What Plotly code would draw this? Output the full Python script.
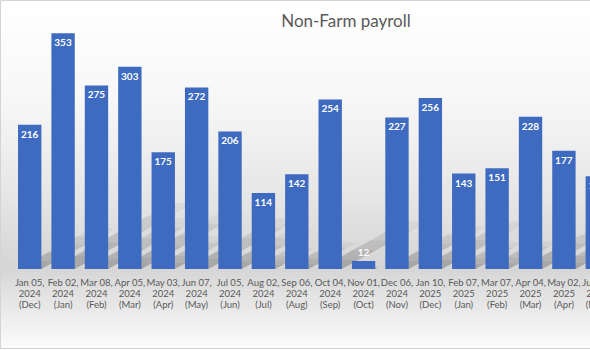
import numpy as np
import plotly.graph_objects as go

# Monthly non-farm payroll change (thousands), by release date and reference month
release_dates = ["Jan 05,", "Feb 02,", "Mar 08,", "Apr 05,", "May 03,", "Jun 07,",
                 "Jul 05,", "Aug 02,", "Sep 06,", "Oct 04,", "Nov 01,", "Dec 06,",
                 "Jan 10,", "Feb 07,", "Mar 07,", "Apr 04,", "May 02,", "Jun 06,"]
release_years = ["2024"] * 12 + ["2025"] * 6
ref_months = ["(Dec)", "(Jan)", "(Feb)", "(Mar)", "(Apr)", "(May)", "(Jun)", "(Jul)",
              "(Aug)", "(Sep)", "(Oct)", "(Nov)", "(Dec)", "(Jan)", "(Feb)", "(Mar)",
              "(Apr)", "(May)"]
payrolls = [216, 353, 275, 303, 175, 272, 206, 114, 142, 254, 12, 227, 256, 143,
            151, 228, 177, 139]

idx = list(range(len(payrolls)))

W, H = 625, 350
ML, MR, MT, MB = 13, 11, 20, 81
PW, PH = W - ML - MR, H - MT - MB
Y_MAX = 373
FONT = "Lato"
TXT = "#595959"
BAR = "#3e6bbf"

fig = go.Figure()
fig.add_trace(go.Bar(
    x=idx, y=payrolls,
    text=[str(v) for v in payrolls],
    textposition="auto", insidetextanchor="end", textangle=0,
    constraintext="none", cliponaxis=False,
    textfont=dict(family=FONT, size=10, color="white", weight="bold"),
    outsidetextfont=dict(family=FONT, size=10, color="white", weight="bold"),
    marker=dict(color=BAR, line=dict(width=0)),
    hoverinfo="skip", showlegend=False,
))

# invisible companions so the second and third label rows get their own axes
for ax in ("x2", "x3"):
    fig.add_trace(go.Scatter(
        x=idx, y=payrolls, xaxis=ax, yaxis="y", mode="markers",
        marker=dict(opacity=0, size=1), hoverinfo="skip", showlegend=False,
    ))

shapes = []

# soft vertical gradient behind the whole chart
def px_to_paper_y(py):
    return (H - MB - py) / PH

stops_px = [0, 100, 200, 268, 300, 350]
stops_gray = [255, 247, 229, 213, 229, 252]
band = 2
for py in range(0, H, band):
    g = int(round(np.interp(py + band / 2, stops_px, stops_gray)))
    shapes.append(dict(
        type="rect", xref="paper", yref="paper", layer="below",
        x0=-ML / PW, x1=(W - ML) / PW,
        y0=px_to_paper_y(py + band), y1=px_to_paper_y(py),
        fillcolor=f"rgb({g},{g},{g})", line=dict(width=0),
    ))

# thin frame around the chart area
shapes.append(dict(
    type="rect", xref="paper", yref="paper", layer="below",
    x0=(0.5 - ML) / PW, x1=(W - 0.5 - ML) / PW,
    y0=px_to_paper_y(348.5), y1=px_to_paper_y(0.5),
    fillcolor="rgba(0,0,0,0)", line=dict(color="#d4d4d4", width=1),
))

# perspective shadows falling up and to the right of each bar
half = 0.35
px_per_unit = PH / Y_MAX
px_per_cat = PW / len(payrolls)
slope = 0.55  # vertical px per horizontal px
k = 0.28
segs = 5
for i, v in enumerate(payrolls):
    hs = k * v
    dx_total = hs * px_per_unit / slope / px_per_cat
    for s in range(segs):
        f0, f1 = s / segs, (s + 1) / segs
        y0, y1 = hs * f0, hs * f1
        d0, d1 = dx_total * f0, dx_total * f1
        path = (f"M {i - half + d0},{y0} L {i + half + d0},{y0} "
                f"L {i + half + d1},{y1} L {i - half + d1},{y1} Z")
        op = 0.30 * (1 - s / segs)
        shapes.append(dict(
            type="path", xref="x", yref="y", layer="below", path=path,
            fillcolor=f"rgba(60,60,60,{op:.3f})", line=dict(width=0),
        ))

tick_common = dict(
    range=[-0.5, len(payrolls) - 0.5], tickvals=idx, showgrid=False,
    zeroline=False, showline=False, ticks="", fixedrange=True, tickangle=0,
    tickfont=dict(family=FONT, size=9.5, color=TXT),
)

fig.update_layout(
    width=W, height=H,
    margin=dict(l=ML, r=MR, t=MT, b=MB, pad=0),
    paper_bgcolor="white", plot_bgcolor="rgba(0,0,0,0)",
    bargap=0.30,
    title=dict(text="Non-Farm payroll", x=346 / W, xref="container", xanchor="center",
               y=1 - 21 / H, yref="container", yanchor="middle",
               font=dict(family=FONT, size=17, color=TXT)),
    xaxis=dict(ticktext=release_dates, ticklabelstandoff=6, **tick_common),
    xaxis2=dict(ticktext=release_years, overlaying="x", anchor="y", side="bottom",
                ticklabelstandoff=17, **tick_common),
    xaxis3=dict(ticktext=ref_months, overlaying="x", anchor="y", side="bottom",
                ticklabelstandoff=28, **tick_common),
    yaxis=dict(range=[0, Y_MAX], visible=False, fixedrange=True),
    shapes=shapes,
    showlegend=False,
)

fig.write_html(
    "out.html",
    config={"displayModeBar": False},
    post_script="document.documentElement.style.overflow='hidden';"
                "document.body.style.overflow='hidden';document.body.style.margin='0';",
)
